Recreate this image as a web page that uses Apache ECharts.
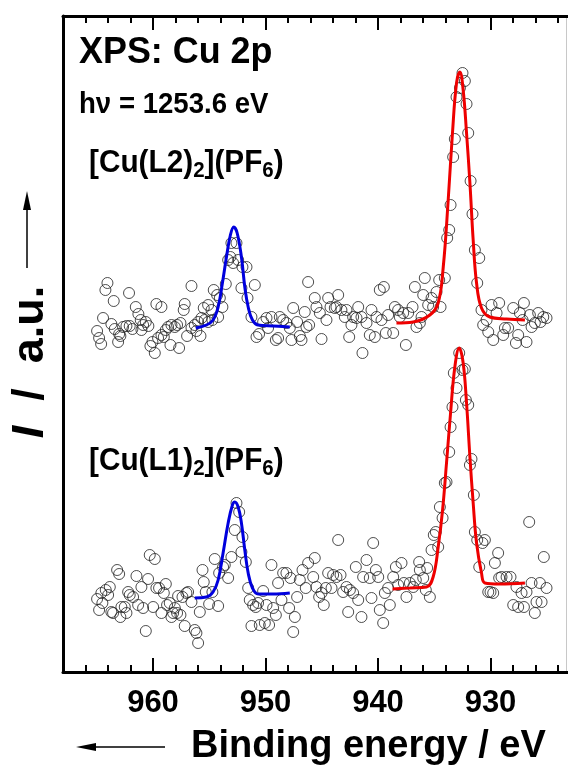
<!DOCTYPE html>
<html>
<head>
    <meta charset="UTF-8" />
    <title>XPS Cu 2p</title>
    <script src="https://cdn.jsdelivr.net/npm/echarts@6/dist/echarts.min.js"></script>
    <style>
        html, body { margin: 0; padding: 0; background: #fff; }
        #chart { width: 568px; height: 767px; }
    </style>
</head>
<body>
<div id="chart"></div>
<script type="text/javascript">
    // [binding energy / eV, intensity / a.u.]
    const l2Points = [
        [964.97,341],[964.79,334],[964.61,328],[964.44,354],[964.05,389],[964.23,382],[963.49,371],[963.70,348],[963.40,343],[963.01,338],
        [963.10,330],[962.90,336],[962.66,345],[962.36,346],[962.07,346],[962.13,379],[961.83,343],[961.53,365],[961.30,358],[961.09,352],
        [961.03,342],[960.88,347],[960.64,350],[960.41,346],[960.23,326],[960.05,330],[959.84,319],[959.70,368],[959.55,334],[959.25,365],
        [959.25,337],[959.04,335],[958.86,342],[958.66,345],[958.45,327],[958.36,347],[958.06,345],[957.86,347],[957.68,324],[957.56,349],
        [957.27,362],[957.18,368],[956.97,336],[956.58,386],[956.58,344],[956.29,347],[956.14,341],[955.99,350],[955.78,336],[955.69,354],
        [955.49,364],[955.40,352],[955.10,367],[955.10,350],[954.80,362],[954.72,352],[954.60,382],[954.30,377],[954.21,355],[954.06,374],
        [953.83,365],[953.53,388],[953.32,412],[953.12,415],[953.03,429],[952.88,409],[952.58,429],[952.43,412],[952.14,384],[952.05,405],
        [951.69,405],[951.60,374],[951.25,355],[950.95,387],[950.80,335],[950.57,338],[950.21,350],[949.91,354],[949.77,344],[949.47,355],
        [949.08,332],[948.88,334],[948.73,355],[948.43,352],[948.14,349],[947.84,344],[947.69,332],[947.54,364],[947.19,350],[946.95,336],
        [946.80,332],[946.51,360],[946.36,345],[946.21,390],[946.12,347],[945.62,374],[945.47,365],[945.17,359],[945.02,333],[944.58,352],
        [944.43,374],[944.22,365],[943.84,364],[943.69,365],[943.54,377],[943.25,362],[942.95,355],[942.80,362],[942.56,335],[942.36,347],
        [942.21,355],[941.91,354],[941.76,365],[941.47,355],[941.38,319],[941.02,349],[940.73,337],[940.58,362],[940.28,335],[940.13,355],
        [939.84,382],[939.69,352],[939.48,385],[939.30,339],[939.10,357],[938.65,339],[938.50,365],[938.21,362],[938.06,355],[937.76,359],
        [937.52,327],[937.32,359],[936.93,365],[936.72,385],[936.58,345],[936.28,349],[936.13,355],[935.98,377],[935.84,394],[935.54,367],
        [935.24,374],[935.10,365],[934.80,380],[934.56,392],[934.44,365],[934.06,394],[933.85,434],[933.67,442],[933.55,467],[933.32,515],
        [933.17,533],[933.02,575],[932.72,584],[932.49,599],[932.28,591],[932.13,568],[931.98,539],[931.77,491],[931.60,458],[931.39,422],
        [931.00,414],[931.18,389],[930.80,362],[930.65,347],[930.35,352],[930.20,340],[929.91,367],[929.76,332],[929.46,359],[929.23,369],
        [928.87,337],[928.72,344],[928.43,344],[927.98,364],[927.74,329],[927.54,337],[927.39,359],[927.15,352],[927.03,369],[926.80,330],
        [926.50,357],[926.35,345],[926.06,349],[925.76,359],[925.55,350],[925.31,355],[925.02,354]
    ];
    const l1Points = [
        [964.97,73],[964.79,62],[964.59,79],[964.50,69],[964.20,82],[963.99,77],[963.84,85],[963.70,60],[963.55,59],[963.19,102],
        [963.01,98],[962.90,55],[962.81,65],[962.51,65],[962.36,59],[962.21,80],[962.07,77],[961.77,75],[961.47,96],[961.32,67],
        [961.03,85],[960.88,64],[960.64,41],[960.44,93],[960.29,117],[959.99,65],[959.84,113],[959.70,84],[959.46,84],[959.25,59],
        [959.04,79],[958.86,88],[958.75,67],[958.51,69],[958.36,55],[958.21,59],[958.06,64],[957.86,59],[957.77,76],[957.56,57],
        [957.38,75],[957.18,46],[957.03,79],[956.88,80],[956.58,70],[956.29,42],[956.14,39],[955.99,29],[955.84,60],[955.60,102],
        [955.49,90],[955.31,80],[955.01,68],[954.72,80],[954.51,113],[954.21,66],[954.12,99],[953.77,105],[953.62,107],[953.32,94],
        [953.03,115],[952.73,142],[952.58,169],[952.34,160],[952.14,120],[952.05,135],[951.75,110],[951.54,84],[951.40,72],[951.25,46],
        [951.10,67],[950.86,65],[950.66,69],[950.51,47],[950.21,81],[950.06,49],[949.91,67],[949.68,47],[949.47,107],[949.32,64],
        [949.08,57],[948.88,89],[948.58,72],[948.43,99],[948.14,99],[947.90,64],[947.78,94],[947.54,40],[947.39,55],[947.19,75],
        [946.95,92],[946.71,102],[946.42,84],[946.21,109],[945.76,95],[945.62,114],[945.47,85],[945.23,75],[945.02,79],[944.82,67],
        [944.64,84],[944.43,99],[944.13,84],[943.99,97],[943.69,95],[943.54,132],[943.33,97],[943.10,80],[942.80,85],[942.65,60],
        [942.50,82],[942.21,79],[941.97,105],[941.76,72],[941.47,55],[941.32,95],[941.02,112],[940.73,94],[940.58,74],[940.43,129],
        [940.19,102],[939.98,95],[939.84,62],[939.54,49],[939.39,79],[939.10,84],[938.95,67],[938.65,95],[938.41,105],[938.21,87],
        [937.91,109],[937.70,89],[937.47,75],[937.17,89],[936.87,85],[936.64,92],[936.34,110],[936.28,102],[935.98,94],[935.75,82],
        [935.63,104],[935.39,75],[935.24,122],[935.04,137],[934.86,140],[934.65,125],[934.50,165],[934.26,154],[934.06,189],[933.91,190],
        [933.67,220],[933.55,245],[933.38,265],[933.26,299],[933.02,284],[932.78,319],[932.49,302],[932.28,303],[932.19,272],[931.98,267],
        [931.83,207],[931.69,213],[931.48,177],[931.39,140],[931.18,132],[931.00,105],[930.71,129],[930.50,132],[930.20,80],[930.00,80],
        [929.76,79],[929.61,109],[929.32,119],[929.23,94],[929.02,95],[928.57,95],[928.22,95],[927.98,67],[927.69,85],[927.54,65],
        [927.24,79],[927.03,65],[926.80,80],[926.56,150],[926.35,89],[926.06,59],[925.91,70],[925.61,89],[925.46,70],[925.26,115],
        [925.02,84]
    ];

    // fitted peaks (2p1/2 blue, 2p3/2 red)
    const l2Fit12 = [[956.20,344],[955.25,347],[954.66,352],[954.21,365],[953.83,389],[953.47,415],[953.12,437],[952.82,445],
        [952.52,439],[952.14,415],[951.84,385],[951.54,365],[951.16,352],[950.66,347],[949.32,346],[947.84,345]];
    const l2Fit32 = [[938.36,349],[936.87,350],[935.39,357],[934.65,369],[934.20,405],[933.76,472],[933.38,539],[933.02,589],
        [932.72,600],[932.43,582],[932.13,539],[931.83,489],[931.54,432],[931.24,389],[930.80,364],[930.06,355],[928.57,353],[926.94,352]];
    const l1Fit12 = [[956.29,74],[955.25,75],[954.66,80],[954.21,92],[953.77,119],[953.32,149],[952.94,167],[952.73,170],
        [952.43,165],[952.14,149],[951.84,122],[951.54,99],[951.16,84],[950.66,78],[949.32,78],[947.84,79]];
    const l1Fit32 = [[938.71,83],[937.17,84],[935.69,85],[935.10,95],[934.65,125],[934.26,162],[933.91,209],[933.55,259],
        [933.17,305],[932.78,324],[932.43,309],[932.13,269],[931.83,215],[931.54,169],[931.24,129],[930.80,99],[930.50,89],
        [929.17,88],[926.94,89]];

    const FONT = '"Liberation Sans", Arial, sans-serif';

    let chart = echarts.init(document.getElementById('chart'));

    // bottom/top axes: one for the long ticks every 10 eV, one for the short ticks every 2 eV
    let makeX = (position, interval, tickLen, showLine, showLabel) => ({
        type: 'value',
        position: position,
        min: 920,
        max: 968,
        interval: interval,
        inverse: true,
        axisLine: { show: showLine, onZero: false, lineStyle: { color: '#000', width: 3 } },
        axisTick: { show: true, inside: true, length: tickLen, lineStyle: { color: '#000', width: 2 } },
        axisLabel: {
            show: showLabel,
            margin: 16,
            color: '#000',
            fontSize: 31,
            fontWeight: 'bold',
            fontFamily: FONT,
            formatter: v => (v % 10 === 0 && v > 925 ? String(v) : '')
        },
        splitLine: { show: false }
    });

    let scatterStyle = {
        color: 'rgba(255,255,255,0)',
        borderColor: '#222',
        borderWidth: 1
    };

    let subStyle = { fontSize: 22, fontWeight: 'bold', fontFamily: FONT, fill: '#000', padding: [16, 0, 0, 0] };

    let option = {
        animation: false,
        backgroundColor: '#fff',
        grid: { left: 63, top: 16, width: 540, height: 656, containLabel: false, outerBoundsMode: 'none' },
        xAxis: [
            makeX('bottom', 10, 14, true, true),
            makeX('bottom', 2, 7, false, false),
            makeX('top', 10, 14, true, false),
            makeX('top', 2, 7, false, false)
        ],
        yAxis: {
            type: 'value',
            min: 0,
            max: 656,
            axisLine: { show: true, onZero: false, lineStyle: { color: '#000', width: 3 } },
            axisTick: { show: false },
            axisLabel: { show: false },
            splitLine: { show: false }
        },
        series: [
            { type: 'scatter', data: l2Points, symbol: 'circle', symbolSize: 11, itemStyle: scatterStyle },
            { type: 'scatter', data: l1Points, symbol: 'circle', symbolSize: 11, itemStyle: scatterStyle },
            { type: 'line', data: l2Fit12, smooth: 0.4, showSymbol: false, lineStyle: { color: '#0000dd', width: 3 } },
            { type: 'line', data: l2Fit32, smooth: 0.4, showSymbol: false, lineStyle: { color: '#ee0000', width: 3 } },
            { type: 'line', data: l1Fit12, smooth: 0.4, showSymbol: false, lineStyle: { color: '#0000dd', width: 3 } },
            { type: 'line', data: l1Fit32, smooth: 0.4, showSymbol: false, lineStyle: { color: '#ee0000', width: 3 } }
        ],
        graphic: [
            // faint right edge of the frame
            { type: 'line', shape: { x1: 566.5, y1: 16, x2: 566.5, y2: 672 }, style: { stroke: '#c8c8c8', lineWidth: 1 } },
            {
                type: 'text', x: 79, y: 53, scaleX: 0.97,
                style: { text: 'XPS: Cu 2p', fill: '#000', fontSize: 37, fontWeight: 'bold', fontFamily: FONT, verticalAlign: 'middle' }
            },
            {
                type: 'text', x: 79, y: 105, scaleX: 0.92,
                style: { text: 'hν = 1253.6 eV', fill: '#000', fontSize: 30, fontWeight: 'bold', fontFamily: FONT, verticalAlign: 'middle' }
            },
            {
                type: 'text', x: 89, y: 163, scaleX: 0.93,
                style: {
                    text: '[Cu(L2){s|2}](PF{s|6})', fill: '#000', fontSize: 32, fontWeight: 'bold', fontFamily: FONT, verticalAlign: 'middle',
                    rich: { s: subStyle }
                }
            },
            {
                type: 'text', x: 89, y: 461, scaleX: 0.93,
                style: {
                    text: '[Cu(L1){s|2}](PF{s|6})', fill: '#000', fontSize: 32, fontWeight: 'bold', fontFamily: FONT, verticalAlign: 'middle',
                    rich: { s: subStyle }
                }
            },
            // y axis name with upward arrow
            {
                type: 'text', x: 31, y: 362, rotation: Math.PI / 2,
                style: {
                    text: '{i|I}  /  a.u.', fill: '#000', fontSize: 45, fontWeight: 'bold', fontFamily: FONT,
                    align: 'center', verticalAlign: 'middle',
                    rich: { i: { fontSize: 45, fontWeight: 'bold', fontStyle: 'italic', fontFamily: FONT, fill: '#000' } }
                }
            },
            { type: 'line', shape: { x1: 27, y1: 268, x2: 27, y2: 208 }, style: { stroke: '#000', lineWidth: 1.5 } },
            { type: 'polygon', shape: { points: [[27, 191], [23, 210], [31, 210]] }, style: { fill: '#000' } },
            // x axis name with leftward arrow
            {
                type: 'text', x: 191, y: 747,
                style: { text: 'Binding energy / eV', fill: '#000', fontSize: 38, fontWeight: 'bold', fontFamily: FONT, verticalAlign: 'middle' }
            },
            { type: 'line', shape: { x1: 165, y1: 747, x2: 92, y2: 747 }, style: { stroke: '#000', lineWidth: 1.5 } },
            { type: 'polygon', shape: { points: [[76, 747], [96, 743], [96, 751]] }, style: { fill: '#000' } }
        ]
    };
    chart.setOption(option);
</script>
</body>
</html>
